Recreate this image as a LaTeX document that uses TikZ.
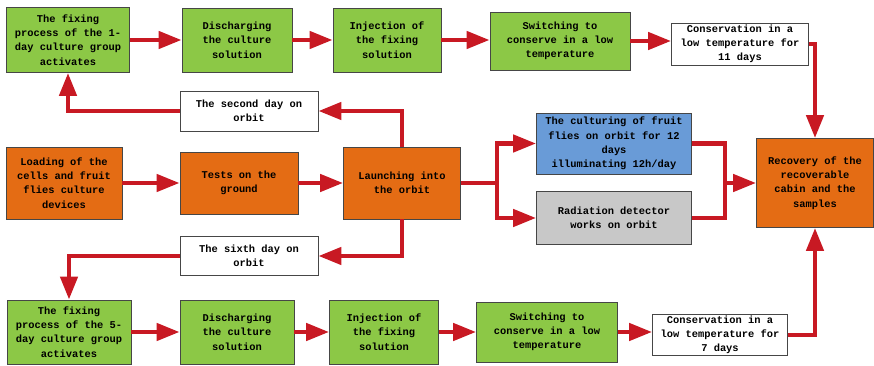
\documentclass[tikz,border=0pt]{standalone}
\usepackage{fontspec}
\newfontfamily\boxfont{Liberation Mono}
\usetikzlibrary{arrows.meta}

\definecolor{boxgreen}{RGB}{140,200,70}
\definecolor{boxorange}{RGB}{228,108,20}
\definecolor{boxblue}{RGB}{105,155,215}
\definecolor{boxgray}{RGB}{200,200,200}
\definecolor{flowred}{RGB}{200,25,35}
\definecolor{edgegray}{RGB}{70,70,70}

\begin{document}
\begin{tikzpicture}[x=1pt, y=1pt,
   base_style/.style={draw=edgegray, line width=0.8pt, inner sep=1pt, align=center,
      text=black, font=\boxfont\bfseries\fontsize{10.4}{14.3}\selectfont},
   green_style/.style={base_style, fill=boxgreen},
   orange_style/.style={base_style, fill=boxorange},
   blue_style/.style={base_style, fill=boxblue},
   gray_style/.style={base_style, fill=boxgray},
   white_style/.style={base_style, fill=white},
   edge_style/.style={draw=flowred, line width=4.5pt, line join=miter,
      -{Triangle[length=23pt,width=17pt]}},
   line_style/.style={draw=flowred, line width=4.5pt, line join=miter}]

    \useasboundingbox (0,0) rectangle (874,366);

    % top row: 1-day group
    \node[green_style, minimum width=123, minimum height=65] (fix1) at (68,326) {The fixing\\process of the 1-\\day culture group\\activates};
    \node[green_style, minimum width=110, minimum height=64] (dis1) at (237,326) {Discharging\\the culture\\solution};
    \node[green_style, minimum width=108, minimum height=64] (inj1) at (387,326) {Injection of\\the fixing\\solution};
    \node[green_style, minimum width=140, minimum height=58] (swi1) at (560,325) {Switching to\\conserve in a low\\temperature};
    \node[white_style, minimum width=137, minimum height=42] (cons11) at (740,322) {Conservation in a\\low temperature for\\11 days};
    \node[white_style, minimum width=138, minimum height=40] (day2) at (249,255) {The second day on\\orbit};

    % middle row
    \node[orange_style, minimum width=116, minimum height=72] (load) at (64,183) {Loading of the\\cells and fruit\\flies culture\\devices};
    \node[orange_style, minimum width=118, minimum height=62] (test) at (239,183) {Tests on the\\ground};
    \node[orange_style, minimum width=117, minimum height=72] (launch) at (402,183) {Launching into\\the orbit};
    \node[blue_style, minimum width=155, minimum height=61] (cult) at (614,222.5) {The culturing of fruit\\flies on orbit for 12\\days\\illuminating 12h/day};
    \node[gray_style, minimum width=155, minimum height=53] (rad) at (614,148) {Radiation detector\\works on orbit};
    \node[orange_style, minimum width=117, minimum height=89] (recov) at (815,183) {Recovery of the\\recoverable\\cabin and the\\samples};

    % bottom row: 5-day group
    \node[white_style, minimum width=138, minimum height=39] (day6) at (249,110) {The sixth day on\\orbit};
    \node[green_style, minimum width=124, minimum height=64] (fix5) at (69,34) {The fixing\\process of the 5-\\day culture group\\activates};
    \node[green_style, minimum width=114, minimum height=64] (dis5) at (237,34) {Discharging\\the culture\\solution};
    \node[green_style, minimum width=109, minimum height=64] (inj5) at (384,34) {Injection of\\the fixing\\solution};
    \node[green_style, minimum width=141, minimum height=60] (swi5) at (547,34) {Switching to\\conserve in a low\\temperature};
    \node[white_style, minimum width=135, minimum height=40] (cons7) at (720,31) {Conservation in a\\low temperature for\\7 days};

    \coordinate (split) at (497,183);
    \coordinate (join) at (725,183);

    \path[edge_style] (fix1) -- (dis1);
    \path[edge_style] (dis1) -- (inj1);
    \path[edge_style] (inj1.east) -- (inj1.east -| swi1.west);
    \path[edge_style] (swi1.east) -- (swi1.east -| cons11.west);
    \path[edge_style] (cons11.east) -| (recov.north);
    \path[edge_style] (launch.north) |- (day2.east);
    \path[edge_style] (day2.west) -| (fix1.south);

    \path[edge_style] (load) -- (test);
    \path[edge_style] (test) -- (launch);
    \path[line_style] (launch.east) -- (split);
    \path[edge_style] (split) |- (cult.west);
    \path[edge_style] (split) |- (rad.west);
    \path[line_style] (cult.east) -| (join);
    \path[line_style] (rad.east) -| (join);
    \path[edge_style] (join) -- (recov.west);

    \path[edge_style] (launch.south) |- (day6.east);
    \path[edge_style] (day6.west) -| (fix5.north);
    \path[edge_style] (fix5) -- (dis5);
    \path[edge_style] (dis5) -- (inj5);
    \path[edge_style] (inj5) -- (swi5);
    \path[edge_style] (swi5.east) -- (swi5.east -| cons7.west);
    \path[edge_style] (cons7.east) -| (recov.south);
\end{tikzpicture}
\end{document}
